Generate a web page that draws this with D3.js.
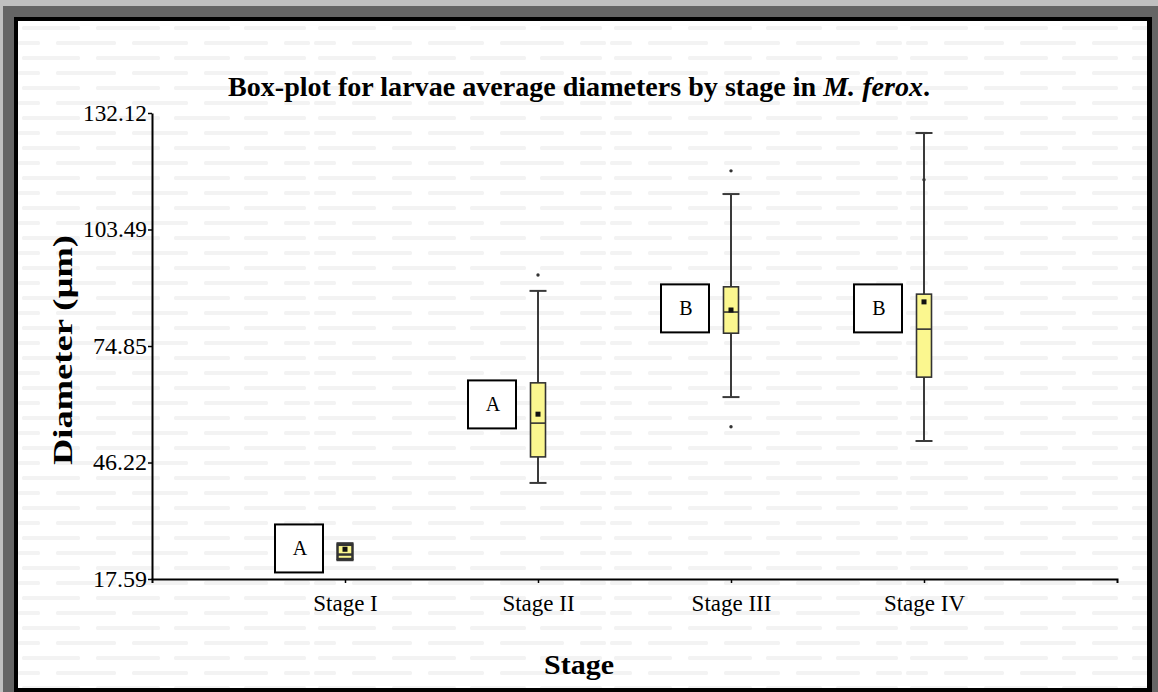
<!DOCTYPE html>
<html>
<head>
<meta charset="utf-8">
<script src="https://cdn.jsdelivr.net/npm/d3@7"></script>
<style>
  html, body { margin: 0; padding: 0; background: #c0c0c0; }
  svg { display: block; }
  text { font-family: "Liberation Serif", "Times New Roman", serif; }
</style>
</head>
<body>
<svg id="chart" width="1158" height="692"></svg>
<script>
// ---- data ----
const stages       = ["Stage I", "Stage II", "Stage III", "Stage IV"];
const whiskerLow   = [22.2, 41.2, 62.3, 51.5];
const q1           = [22.5, 47.6, 78.0, 67.2];
const medians      = [23.6, 55.9, 83.2, 79.0];
const q3           = [26.0, 65.8, 89.4, 87.6];
const whiskerHigh  = [26.4, 88.4, 112.2, 127.2];
const means        = [24.9, 58.1, 83.7, 85.7];
const outliers     = [[], [92.3], [117.9, 55.0], [115.7]];
const groupLetters = ["A", "A", "B", "B"];
const letterCenter = [25.1, 60.5, 84.1, 84.1];
const yTicks       = [17.59, 46.22, 74.85, 103.49, 132.12];

const svg = d3.select("#chart");

// ---- frame ----
svg.append("rect").attr("x", 0).attr("y", 0).attr("width", 1158).attr("height", 692).attr("fill", "#c0c0c0");
svg.append("rect").attr("x", 3).attr("y", 6).attr("width", 1155).attr("height", 686).attr("fill", "#656565");
svg.append("rect").attr("x", 14).attr("y", 17).attr("width", 1138).attr("height", 675).attr("fill", "#000");
svg.append("rect").attr("x", 18).attr("y", 21).attr("width", 1129).attr("height", 667).attr("fill", "#fff");

// faint background texture
const defs = svg.append("defs");
const pat = defs.append("pattern").attr("id", "tex").attr("patternUnits", "userSpaceOnUse")
  .attr("x", 18).attr("y", 21).attr("width", 296).attr("height", 30);
[[4, 0, 58], [78, 0, 64], [156, 0, 56], [226, 0, 62],
 [38, 15, 60], [114, 15, 56], [186, 15, 64], [266, 15, 26], [0, 15, 22]].forEach(([x, y, w]) => {
  pat.append("rect").attr("x", x).attr("y", y + 5).attr("width", w).attr("height", 4)
    .attr("rx", 1.5).attr("fill", "#f3f3f3");
});
svg.append("rect").attr("x", 18).attr("y", 21).attr("width", 1129).attr("height", 667).attr("fill", "url(#tex)");

// ---- scales ----
const y = d3.scaleLinear().domain([17.59, 132.12]).range([579, 113]);
const x = d3.scaleLinear().domain([0, 5]).range([152, 1117]);

// ---- axes ----
const yAxis = svg.append("g").attr("transform", `translate(${x(0)},0)`)
  .call(d3.axisLeft(y).tickValues(yTicks).tickSize(4).tickSizeOuter(0).tickPadding(1)
    .tickFormat(d => d.toFixed(2)));
const xAxis = svg.append("g").attr("transform", `translate(0,${y(17.59)})`)
  .call(d3.axisBottom(x).tickValues([1, 2, 3, 4]).tickSize(4).tickSizeOuter(4).tickPadding(12)
    .tickFormat(d => stages[d - 1]));
[yAxis, xAxis].forEach(g => {
  g.select(".domain").attr("stroke", "#000").attr("stroke-width", 2);
  g.selectAll(".tick line").attr("stroke", "#000").attr("stroke-width", 1.5);
  g.selectAll(".tick text").attr("fill", "#000").style("font-family", "'Liberation Serif', serif");
});
yAxis.selectAll(".tick text").style("font-size", "23px").attr("textLength", 64).attr("lengthAdjust", "spacingAndGlyphs");
yAxis.selectAll(".tick text").filter(d => d < 100).attr("textLength", 54);
xAxis.selectAll(".tick text").style("font-size", "23px");

// ---- box plots ----
const boxW = 15, capW = 17;
const idx = d3.range(stages.length);
const g = svg.append("g");

// whiskers
g.selectAll("line.whisk").data(idx).join("line").attr("class", "whisk")
  .attr("x1", i => x(i + 1)).attr("x2", i => x(i + 1))
  .attr("y1", i => y(whiskerLow[i])).attr("y2", i => y(whiskerHigh[i]))
  .attr("stroke", "#3a3a3a").attr("stroke-width", 2);
g.selectAll("line.capHi").data(idx).join("line").attr("class", "capHi")
  .attr("x1", i => x(i + 1) - capW / 2).attr("x2", i => x(i + 1) + capW / 2)
  .attr("y1", i => y(whiskerHigh[i])).attr("y2", i => y(whiskerHigh[i]))
  .attr("stroke", "#3a3a3a").attr("stroke-width", 2);
g.selectAll("line.capLo").data(idx).join("line").attr("class", "capLo")
  .attr("x1", i => x(i + 1) - capW / 2).attr("x2", i => x(i + 1) + capW / 2)
  .attr("y1", i => y(whiskerLow[i])).attr("y2", i => y(whiskerLow[i]))
  .attr("stroke", "#3a3a3a").attr("stroke-width", 2);
// boxes
g.selectAll("rect.box").data(idx).join("rect").attr("class", "box")
  .attr("x", i => x(i + 1) - boxW / 2).attr("width", boxW)
  .attr("y", i => y(q3[i])).attr("height", i => y(q1[i]) - y(q3[i]))
  .attr("fill", "#fbf78f").attr("stroke", "#333").attr("stroke-width", i => i === 0 ? 2.5 : 1.6);
// medians
g.selectAll("line.med").data(idx).join("line").attr("class", "med")
  .attr("x1", i => x(i + 1) - boxW / 2).attr("x2", i => x(i + 1) + boxW / 2)
  .attr("y1", i => y(medians[i])).attr("y2", i => y(medians[i]))
  .attr("stroke", "#333").attr("stroke-width", i => i === 0 ? 2.5 : 1.6);
// means
g.selectAll("rect.mean").data(idx).join("rect").attr("class", "mean")
  .attr("x", i => x(i + 1) - 2.5).attr("y", i => y(means[i]) - 2.5)
  .attr("width", 5).attr("height", 5).attr("fill", "#111");
// outliers
const outPts = idx.flatMap(i => outliers[i].map(v => ({ i, v })));
g.selectAll("circle.out").data(outPts).join("circle").attr("class", "out")
  .attr("cx", d => x(d.i + 1)).attr("cy", d => y(d.v)).attr("r", 1.7).attr("fill", "#333");

// ---- group letters ----
const lbW = 48, lbH = 48;
const lg = svg.append("g").selectAll("g").data(idx).join("g")
  .attr("transform", i => `translate(${x(i + 1) - 22 - lbW},${y(letterCenter[i]) - lbH / 2})`);
lg.append("rect").attr("width", lbW).attr("height", lbH).attr("fill", "#fff")
  .attr("stroke", "#000").attr("stroke-width", 2);
lg.append("text").attr("x", lbW / 2 + 1).attr("y", lbH / 2 + 7).attr("text-anchor", "middle")
  .style("font-size", "20px").attr("fill", "#000").text(i => groupLetters[i]);

// ---- titles ----
const title = svg.append("text").attr("x", 579).attr("y", 96).attr("text-anchor", "middle")
  .style("font-size", "27px").style("font-weight", "bold").attr("fill", "#000")
  .attr("textLength", 702).attr("lengthAdjust", "spacingAndGlyphs");
title.append("tspan").text("Box-plot for larvae average diameters by stage in ");
title.append("tspan").style("font-style", "italic").text("M. ferox");
title.append("tspan").text(".");

svg.append("text").attr("transform", "translate(72,350) rotate(-90)").attr("text-anchor", "middle")
  .style("font-size", "27px").style("font-weight", "bold").attr("fill", "#000")
  .attr("textLength", 230).attr("lengthAdjust", "spacingAndGlyphs")
  .text("Diameter (µm)");

svg.append("text").attr("x", 579).attr("y", 674).attr("text-anchor", "middle")
  .style("font-size", "27px").style("font-weight", "bold").attr("fill", "#000")
  .attr("textLength", 70).attr("lengthAdjust", "spacingAndGlyphs")
  .text("Stage");
</script>
</body>
</html>
